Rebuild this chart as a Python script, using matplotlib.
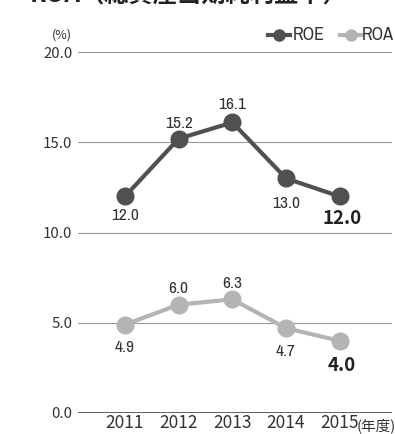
import matplotlib
matplotlib.use('Agg')
import matplotlib.pyplot as plt
import matplotlib.font_manager as fm

plt.rcParams['font.family'] = ['Noto Sans CJK JP', 'DejaVu Sans']

years = [2011, 2012, 2013, 2014, 2015]
roe = [12.0, 15.2, 16.1, 13.0, 12.0]
roa = [4.9, 6.0, 6.3, 4.7, 4.0]
yticks = [0, 5, 10, 15, 20]

# label offsets in pixels (positive = above the point)
roe_off = [-18.6, 15.6, 18.4, -24.6, -21.6]
roa_off = [-23.4, 16.7, 16.3, -23.8, -24.2]

roe_color = '#505050'
roa_color = '#b4b4b4'
text_color = '#333333'

# pick a narrow face for the numbers if one is installed
narrow = dict(family='DejaVu Sans')
for f in fm.fontManager.ttflist:
    if 'Narrow' in f.name:
        narrow = dict(family=f.name)
        break
else:
    for f in fm.fontManager.ttflist:
        if f.name in ('DejaVu Sans', 'Roboto', 'Noto Sans', 'Open Sans') and 'condensed' in str(f.stretch):
            narrow = dict(family=f.name, stretch='condensed')
            break

fig = plt.figure(figsize=(3.95, 4.34), dpi=100)
ax = fig.add_axes([0.1975, 0.0484, 0.7945, 0.8316])

for y in yticks:
    c = '#444444' if y == 0 else '#999999'
    ax.axhline(y, color=c, lw=1.2 if y == 0 else 0.8, zorder=1)

ax.plot(years, roe, color=roe_color, lw=3, marker='o', ms=12, zorder=3)
ax.plot(years, roa, color=roa_color, lw=3, marker='o', ms=12, zorder=3)


def label_series(vals, offs):
    for i, (x, v) in enumerate(zip(years, vals)):
        last = i == len(vals) - 1
        if last:
            ax.annotate(f'{v:.1f}', (x, v), xytext=(1.5, offs[i] * 0.72),
                        textcoords='offset points', ha='center', va='center',
                        color='#222222', fontsize=13.5, fontweight='bold',
                        family='Noto Sans CJK JP')
        else:
            ax.annotate(f'{v:.1f}', (x, v), xytext=(0, offs[i] * 0.72),
                        textcoords='offset points', ha='center', va='center',
                        color=text_color, fontsize=12.5, **narrow)


label_series(roe, roe_off)
label_series(roa, roa_off)

ax.set_xlim(2010.126, 2015.97)
ax.set_ylim(0, 20)
ax.set_xticks(years)
ax.set_xticklabels([str(y) for y in years], fontsize=12.5, color=text_color)
ax.set_yticks(yticks)
ax.set_yticklabels([f'{y:.1f}' for y in yticks], fontsize=10.8, color=text_color)
ax.tick_params(length=0, pad=4)
ax.tick_params(axis='x', pad=1)
for s in ax.spines.values():
    s.set_visible(False)

ax.text(-0.05, 1.03, '(%)', transform=ax.transAxes, ha='center', va='bottom',
        fontsize=9, color=text_color)
fig.text(357 / 395, 1 - 426 / 434, '(年度)', ha='left', va='center',
         fontsize=10.5, color=text_color)

# legend
ly = 1.047
ax.plot([0.605, 0.675], [ly, ly], transform=ax.transAxes, color=roe_color,
        lw=3, clip_on=False)
ax.plot([0.640], [ly], transform=ax.transAxes, color=roe_color, marker='o',
        ms=8, clip_on=False)
ax.text(0.683, ly, 'ROE', transform=ax.transAxes, va='center', ha='left',
        fontsize=13, color=text_color, **narrow)
ax.plot([0.834, 0.904], [ly, ly], transform=ax.transAxes, color=roa_color,
        lw=3, clip_on=False)
ax.plot([0.869], [ly], transform=ax.transAxes, color=roa_color, marker='o',
        ms=8, clip_on=False)
ax.text(0.905, ly, 'ROA', transform=ax.transAxes, va='center', ha='left',
        fontsize=13, color=text_color, **narrow)

fig.text(30 / 395, 1 - 2.5 / 434, 'ROA（総資産当期純利益率）', ha='left', va='baseline',
         fontsize=17.5, fontweight='bold', color='#222222')

fig.savefig('out.png', dpi=100)
